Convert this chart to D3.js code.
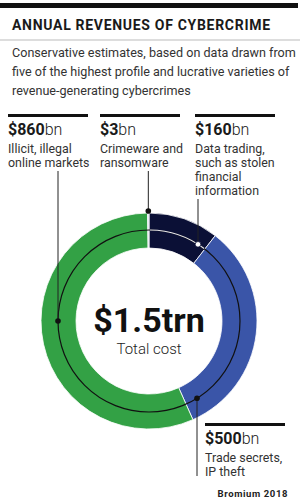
<!DOCTYPE html>
<meta charset="utf-8">
<style>
  body { margin: 0; background: #fff; }
  svg { display: block; font-family: Roboto, "Noto Sans", sans-serif; }
  .title { font-weight: 700; font-size: 14px; letter-spacing: 0.7px; fill: #1a1a1a; }
  .sub { font-size: 12.6px; fill: #333; }
  .val { font-size: 16px; fill: #1a1a1a; }
  .val .num { font-weight: 700; }
  .val .unit { font-weight: 300; }
  .desc { font-size: 12.4px; fill: #333; }
  .big { font-weight: 700; font-size: 34px; fill: #111; }
  .total { font-size: 15px; font-weight: 300; fill: #222; }
  .src { font-weight: 700; font-size: 9.5px; letter-spacing: 0.6px; fill: #222; }
</style>
<body>
<svg width="300" height="500"></svg>
<script src="https://cdn.jsdelivr.net/npm/d3@7"></script>
<script>
// data
var categories = ["Data trading", "Trade secrets", "Illicit markets", "Crimeware"];
var values = [160, 500, 860, 3];
var colors = ["#0b1036", "#3a55a8", "#33a145", "#cfd4ea"];
var valueLabels = ["$160", "$500", "$860", "$3"];
var descLines = [
  ["Data trading,", "such as stolen", "financial", "information"],
  ["Trade secrets,", "IP theft"],
  ["Illicit, illegal", "online markets"],
  ["Crimeware and", "ransomware"]
];
var subtitle = [
  "Conservative estimates, based on data drawn from",
  "five of the highest profile and lucrative varieties of",
  "revenue-generating cybercrimes"
];

var svg = d3.select("svg"),
    width = +svg.attr("width"),
    height = +svg.attr("height");

// header
svg.append("rect").attr("x", 0).attr("y", 3).attr("width", 298).attr("height", 5).attr("fill", "#111");
svg.append("text").attr("class", "title").attr("x", 12).attr("y", 30).text("ANNUAL REVENUES OF CYBERCRIME");
svg.append("rect").attr("x", 0).attr("y", 39.5).attr("width", 300).attr("height", 1).attr("fill", "#bbb");
svg.selectAll(".sub").data(subtitle).enter().append("text")
    .attr("class", "sub")
    .attr("x", 12)
    .attr("y", function(d, i) { return 57 + i * 19; })
    .text(function(d) { return d; });

// donut
var cx = 149, cy = 321, rOuter = 108, rInner = 73, rRing = 91;
var g = svg.append("g").attr("transform", "translate(" + cx + "," + cy + ")");

var pie = d3.pie().sort(null).value(function(d) { return d; });
var arcs = pie(values);
var arc = d3.arc().innerRadius(rInner).outerRadius(rOuter);

g.selectAll("path.slice").data(arcs).enter().append("path")
    .attr("class", "slice")
    .attr("d", arc)
    .attr("fill", function(d, i) { return colors[i]; })
    .attr("stroke", "#fff")
    .attr("stroke-width", 0.8);

// thin ring line, light where it crosses the dark slice
g.append("circle").attr("r", rRing).attr("fill", "none").attr("stroke", "#111").attr("stroke-width", 1.2);
g.append("path")
    .attr("d", d3.arc().innerRadius(rRing - 0.6).outerRadius(rRing + 0.6)
      .startAngle(arcs[0].startAngle + 0.01).endAngle(arcs[0].endAngle - 0.01)())
    .attr("fill", "#e8e8ee");

g.append("text").attr("class", "big").attr("text-anchor", "middle").attr("y", 11).text("$1.5trn");
g.append("text").attr("class", "total").attr("text-anchor", "middle").attr("y", 33).text("Total cost");

// label blocks
var labelX = [195, 205, 8, 100];
var barY = [114, 423, 114, 114];
var leaderX = [198, 197, 57, 149];

function ringY(x, sign, r) {
  var dx = x - cx;
  return cy + sign * Math.sqrt(r * r - dx * dx);
}

categories.forEach(function(c, i) {
  var x = labelX[i], y = barY[i];
  svg.append("rect").attr("x", x).attr("y", y).attr("width", 80).attr("height", 3).attr("fill", "#111");
  var t = svg.append("text").attr("class", "val").attr("x", x).attr("y", y + 21);
  t.append("tspan").attr("class", "num").text(valueLabels[i]);
  t.append("tspan").attr("class", "unit").text("bn");
  svg.selectAll(null).data(descLines[i]).enter().append("text")
      .attr("class", "desc")
      .attr("x", x)
      .attr("y", function(d, j) { return y + 39 + j * 14; })
      .text(function(d) { return d; });
});

// leaders
var mid3 = (arcs[3].startAngle + arcs[3].endAngle) / 2;
var leaders = [
  { x: leaderX[0], y1: 199, y2: ringY(leaderX[0], -1, rRing), fill: "#fff" },
  { x: leaderX[1], y1: 476, y2: ringY(leaderX[1], 1, rRing), fill: "#111" },
  { x: cx - rRing, y1: 171, y2: cy, fill: "#111" },
  { x: cx + Math.sin(mid3) * (rOuter + 2), y1: 171, y2: cy - Math.cos(mid3) * (rOuter + 2), fill: "#111" }
];

leaders.forEach(function(l) {
  svg.append("line").attr("x1", l.x).attr("x2", l.x).attr("y1", l.y1).attr("y2", l.y2)
      .attr("stroke", "#222").attr("stroke-width", 1);
  svg.append("circle").attr("cx", l.x).attr("cy", l.y2).attr("r", 2.8)
      .attr("fill", l.fill).attr("stroke", l.fill === "#fff" ? "#0b1036" : "none").attr("stroke-width", 0.8);
});

svg.append("text").attr("class", "src").attr("x", 288).attr("y", 497).attr("text-anchor", "end").text("Bromium 2018");
</script>
</body>
